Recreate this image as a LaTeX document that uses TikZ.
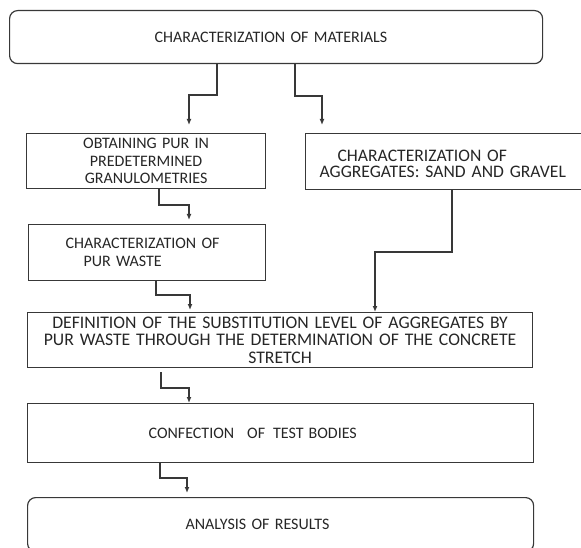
\documentclass[tikz,border=0pt]{standalone}
\usepackage{fontspec}
\setmainfont{Carlito}
\usetikzlibrary{arrows.meta}
\begin{document}
\begin{tikzpicture}[x=1pt,y=-1pt,
  box/.style={draw=black!78, line width=1.2pt, rectangle, anchor=north west, inner ysep=0pt, text=black!85},
  rbox/.style={box, rounded corners=8pt},
  conn/.style={draw=black!78, line width=1.2pt, -{Latex[length=6pt,width=5pt]}},
  fa/.style={font=\fontsize{16pt}{17.5pt}\selectfont},
  fb/.style={font=\fontsize{17.6pt}{16pt}\selectfont},
  fc/.style={font=\fontsize{17.7pt}{17.5pt}\selectfont}
]
\useasboundingbox (0,0) rectangle (581,548);
\clip (0,0) rectangle (581,548);

\node[rbox, fa, minimum width=533pt, minimum height=53pt, inner xsep=145pt, text width=243pt, align=left] (top) at (9,10) {CHARACTERIZATION OF MATERIALS};

\node[box, fa, minimum width=239pt, minimum height=55pt, inner xsep=4pt, text width=231pt, align=center] (obt) at (26,133) {OBTAINING PUR IN\\PREDETERMINED\\GRANULOMETRIES};

\node[box, fb, minimum height=56pt, inner xsep=14pt, text width=270pt, align=left, text depth=12pt] (agg) at (305,133) {\hspace*{18pt}CHARACTERIZATION OF\\AGGREGATES: SAND AND GRAVEL};

\node[box, fa, minimum width=237pt, minimum height=56pt, inner xsep=37pt, text width=163pt, align=left] (pw) at (28,224) {CHARACTERIZATION OF\\\hspace*{18pt}PUR WASTE};

\node[box, fc, minimum width=505pt, minimum height=55pt, inner xsep=5pt, text width=495pt, align=center] (def) at (27,312) {DEFINITION OF THE SUBSTITUTION LEVEL OF AGGREGATES BY\\PUR WASTE THROUGH THE DETERMINATION OF THE CONCRETE\\STRETCH};

\node[box, fa, minimum width=506pt, minimum height=59pt, inner xsep=121pt, text width=264pt, align=left] (conf) at (27,403) {CONFECTION\hspace{13pt}OF\hspace{8pt}TEST\hspace{5pt}BODIES};

\node[rbox, fa, minimum width=506pt, minimum height=54pt, inner xsep=158pt, text width=190pt, align=left] (ana) at (27,497) {ANALYSIS OF RESULTS};

\draw[conn, shorten >=8pt] (top.south -| 217,0) |- (189,95) -- (obt.north -| 189,0);
\draw[conn, shorten >=8pt] (top.south -| 295,0) |- (322,96) -- (agg.north -| 322,0);
\draw[conn, shorten >=4pt] (obt.south -| 159,0) |- (189,205) -- (pw.north -| 189,0);
\draw[conn, shorten >=2pt] (pw.south -| 156,0) |- (190,295) -- (def.north -| 190,0);
\draw[conn] (agg.south -| 452,0) |- (375,252) -- (def.north -| 375,0);
\draw[conn, shorten <=4pt] (def.south -| 161,0) |- (189,388) -- (conf.north -| 189,0);
\draw[conn, shorten >=4pt] (conf.south -| 160,0) |- (187,478) -- (ana.north -| 187,0);
\end{tikzpicture}
\end{document}
